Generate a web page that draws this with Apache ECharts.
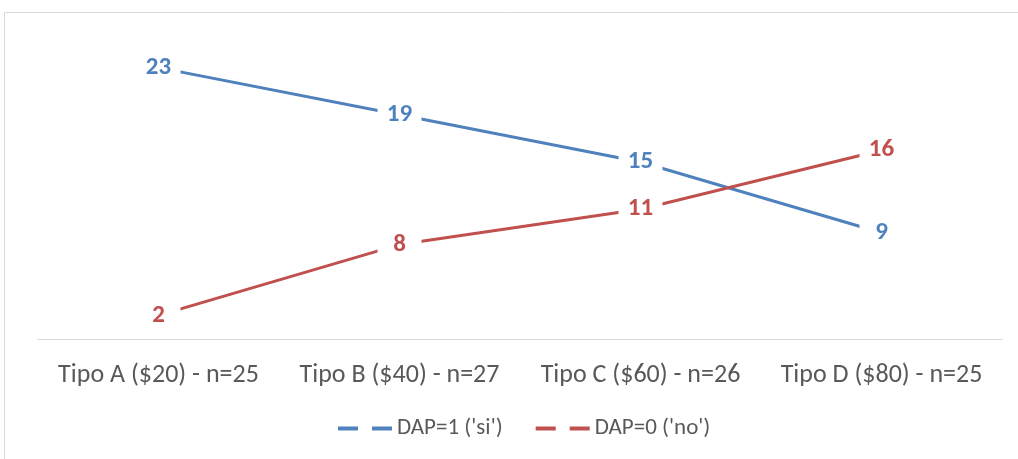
<!DOCTYPE html>
<html>
<head>
<meta charset="utf-8">
<script src="https://cdn.jsdelivr.net/npm/echarts@6/dist/echarts.min.js"></script>
<style>
  html, body { margin: 0; padding: 0; background: #fff; }
  #chart { width: 1018px; height: 459px; }
</style>
</head>
<body>
<div id="chart"></div>
<script>
// Categories and counts per type
const categories = ['Tipo A ($20) - n=25', 'Tipo B ($40) - n=27', 'Tipo C ($60) - n=26', 'Tipo D ($80) - n=25'];
const seriesNames = ["DAP=1 ('si')", "DAP=0 ('no')"];
const dapSi = [23, 19, 15, 9];
const dapNo = [2, 8, 11, 16];

const FONT = 'Carlito, Lato, "Open Sans", sans-serif';
const BLUE = '#4F81BD';
const RED = '#C0504D';

function lineSeries(name, data, color) {
  return {
    name: name,
    type: 'line',
    data: data,
    symbol: 'circle',
    symbolSize: 1,
    showSymbol: true,
    itemStyle: { color: color },
    lineStyle: { color: color, width: 3 },
    label: {
      show: true,
      position: 'inside',
      color: color,
      fontFamily: FONT,
      fontWeight: 'bold',
      fontSize: 25,
      backgroundColor: '#ffffff',
      width: 44,
      height: 26,
      lineHeight: 26,
      align: 'center',
      verticalAlign: 'middle'
    },
    emphasis: { disabled: true },
    animation: false
  };
}

const chart = echarts.init(document.getElementById('chart'));
chart.setOption({
  backgroundColor: '#ffffff',
  animation: false,
  graphic: [{
    type: 'rect',
    shape: { x: 4.5, y: 12.5, width: 1040, height: 470 },
    style: { fill: 'none', stroke: '#d9d9d9', lineWidth: 1 },
    z: -1
  }],
  grid: { left: 38, right: 16, top: 44, bottom: 120 },
  xAxis: {
    type: 'category',
    data: categories,
    boundaryGap: true,
    axisLine: { lineStyle: { color: '#d9d9d9', width: 1 } },
    axisTick: { show: false },
    axisLabel: { color: '#595959', fontFamily: FONT, fontSize: 26, margin: 23, interval: 0 }
  },
  yAxis: {
    type: 'value',
    min: 0,
    max: 25,
    interval: 5,
    show: false,
    splitLine: { show: false }
  },
  legend: {
    bottom: 14,
    left: 333,
    itemGap: 33,
    itemWidth: 54,
    itemHeight: 4,
    textStyle: { color: '#595959', fontFamily: FONT, fontSize: 23 },
    data: [
      { name: seriesNames[0], icon: 'path://M0,0h20v4h-20z M34,0h20v4h-20z', itemStyle: { color: BLUE } },
      { name: seriesNames[1], icon: 'path://M0,0h20v4h-20z M34,0h20v4h-20z', itemStyle: { color: RED } }
    ]
  },
  series: [
    lineSeries(seriesNames[0], dapSi, BLUE),
    lineSeries(seriesNames[1], dapNo, RED)
  ]
});
</script>
</body>
</html>
